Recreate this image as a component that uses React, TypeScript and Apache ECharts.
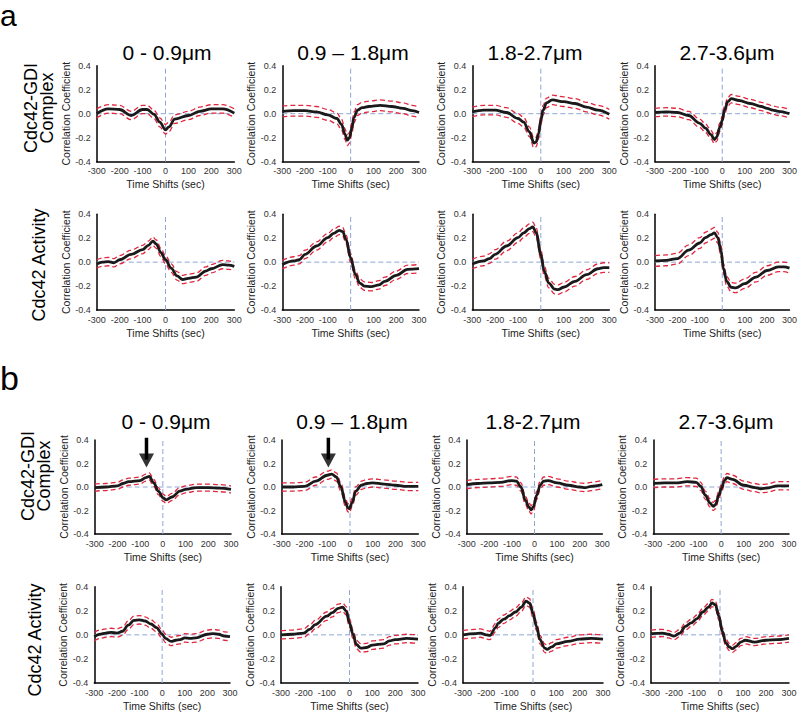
import React, { useEffect, useRef } from "react";
import * as echarts from "echarts";

type Row = [number, number, number, number]; // [time shift, lower, mean, upper]

const FONT = "Liberation Sans, Arial, sans-serif";

const panelTitles = ["0 - 0.9μm", "0.9 – 1.8μm", "1.8-2.7μm", "2.7-3.6μm"];
const rowLabels = ["Cdc42-GDI\nComplex", "Cdc42 Activity", "Cdc42-GDI\nComplex", "Cdc42 Activity"];
const xTickInterval = 100;
const yTickInterval = 0.2;

// ---- a: Cdc42-GDI complex ----
const aGdi1: Row[] = [
  [-300, -0.035, 0.0, 0.04], [-250, 0.005, 0.04, 0.075], [-200, 0.0, 0.035, 0.07],
  [-150, -0.05, -0.015, 0.02], [-100, 0.0, 0.035, 0.07], [-80, 0.0, 0.035, 0.07],
  [-50, -0.04, -0.005, 0.03], [-25, -0.11, -0.07, -0.035], [0, -0.17, -0.135, -0.09],
  [15, -0.15, -0.11, -0.07], [40, -0.08, -0.045, -0.01], [100, -0.05, -0.015, 0.02],
  [150, -0.015, 0.02, 0.055], [200, 0.005, 0.04, 0.075], [250, 0.005, 0.04, 0.075],
  [300, -0.03, 0.005, 0.04],
];
const aGdi2: Row[] = [
  [-300, -0.025, 0.02, 0.065], [-250, -0.02, 0.025, 0.07], [-200, -0.02, 0.025, 0.07],
  [-150, -0.03, 0.015, 0.06], [-100, -0.055, -0.01, 0.035], [-60, -0.085, -0.04, 0.005],
  [-40, -0.135, -0.09, -0.045], [-25, -0.215, -0.17, -0.125], [-15, -0.265, -0.22, -0.175],
  [-5, -0.245, -0.2, -0.155], [5, -0.165, -0.12, -0.075], [15, -0.075, -0.03, 0.015],
  [30, -0.015, 0.03, 0.075], [50, 0.005, 0.05, 0.095], [80, 0.015, 0.06, 0.105],
  [130, 0.025, 0.07, 0.115], [180, 0.015, 0.06, 0.105], [230, 0.0, 0.045, 0.09],
  [270, -0.02, 0.025, 0.07], [300, -0.035, 0.01, 0.055],
];
const aGdi3: Row[] = [
  [-300, -0.025, 0.015, 0.055], [-250, -0.01, 0.03, 0.07], [-200, -0.01, 0.03, 0.07],
  [-150, -0.03, 0.01, 0.05], [-100, -0.08, -0.04, 0.0], [-75, -0.11, -0.07, -0.03],
  [-50, -0.19, -0.15, -0.11], [-30, -0.285, -0.245, -0.205], [-20, -0.275, -0.235, -0.195],
  [-10, -0.21, -0.17, -0.13], [0, -0.095, -0.055, -0.015], [10, -0.01, 0.03, 0.07],
  [25, 0.05, 0.09, 0.13], [50, 0.075, 0.115, 0.155], [100, 0.06, 0.1, 0.14],
  [150, 0.045, 0.085, 0.125], [200, 0.015, 0.055, 0.095], [250, -0.01, 0.03, 0.07],
  [300, -0.045, -0.005, 0.035],
];
const aGdi4: Row[] = [
  [-300, -0.025, 0.01, 0.045], [-250, -0.02, 0.015, 0.05], [-200, -0.025, 0.01, 0.045],
  [-150, -0.05, -0.015, 0.02], [-100, -0.115, -0.08, -0.045], [-75, -0.155, -0.12, -0.085],
  [-50, -0.21, -0.175, -0.14], [-35, -0.25, -0.215, -0.18], [-25, -0.23, -0.195, -0.16],
  [-10, -0.145, -0.11, -0.075], [0, -0.09, -0.055, -0.02], [10, -0.005, 0.03, 0.065],
  [25, 0.065, 0.1, 0.135], [40, 0.09, 0.125, 0.16], [75, 0.075, 0.11, 0.145],
  [125, 0.05, 0.085, 0.12], [175, 0.025, 0.06, 0.095], [200, 0.01, 0.045, 0.08],
  [225, -0.005, 0.03, 0.065], [250, -0.015, 0.02, 0.055], [300, -0.035, 0.0, 0.035],
];

// ---- a: Cdc42 activity ----
const aAct1: Row[] = [
  [-300, -0.05, -0.015, 0.02], [-275, -0.035, 0.0, 0.035], [-250, -0.03, 0.005, 0.04],
  [-225, -0.04, -0.005, 0.03], [-200, -0.015, 0.02, 0.055], [-150, 0.03, 0.065, 0.1],
  [-100, 0.07, 0.105, 0.14], [-75, 0.105, 0.14, 0.175], [-55, 0.14, 0.175, 0.21],
  [-40, 0.115, 0.15, 0.185], [-20, 0.045, 0.08, 0.115], [0, -0.015, 0.02, 0.055],
  [25, -0.085, -0.05, -0.015], [50, -0.15, -0.115, -0.08], [75, -0.18, -0.145, -0.11],
  [100, -0.17, -0.135, -0.1], [135, -0.16, -0.125, -0.09], [175, -0.11, -0.075, -0.04],
  [200, -0.09, -0.055, -0.02], [250, -0.055, -0.02, 0.015], [275, -0.06, -0.025, 0.01],
  [300, -0.07, -0.035, 0.0],
];
const aAct2: Row[] = [
  [-300, -0.055, -0.02, 0.015], [-250, -0.025, 0.01, 0.045], [-225, -0.015, 0.02, 0.055],
  [-200, 0.03, 0.065, 0.1], [-150, 0.1, 0.135, 0.17], [-100, 0.17, 0.205, 0.24],
  [-75, 0.205, 0.24, 0.275], [-50, 0.23, 0.265, 0.3], [-35, 0.22, 0.255, 0.29],
  [-20, 0.155, 0.19, 0.225], [0, 0.0, 0.035, 0.07], [20, -0.135, -0.1, -0.065],
  [40, -0.21, -0.175, -0.14], [60, -0.235, -0.2, -0.165], [90, -0.24, -0.205, -0.17],
  [125, -0.225, -0.19, -0.155], [150, -0.195, -0.16, -0.125], [200, -0.145, -0.11, -0.075],
  [250, -0.095, -0.06, -0.025], [300, -0.09, -0.055, -0.02],
];
const aAct3: Row[] = [
  [-300, -0.055, -0.015, 0.025], [-250, -0.03, 0.01, 0.05], [-225, -0.01, 0.03, 0.07],
  [-200, 0.025, 0.065, 0.105], [-150, 0.095, 0.135, 0.175], [-100, 0.165, 0.205, 0.245],
  [-75, 0.205, 0.245, 0.285], [-50, 0.24, 0.28, 0.32], [-35, 0.255, 0.295, 0.335],
  [-20, 0.205, 0.245, 0.285], [0, 0.025, 0.065, 0.105], [15, -0.115, -0.075, -0.035],
  [35, -0.215, -0.175, -0.135], [60, -0.265, -0.225, -0.185], [75, -0.27, -0.23, -0.19],
  [100, -0.25, -0.21, -0.17], [150, -0.2, -0.16, -0.12], [200, -0.145, -0.105, -0.065],
  [250, -0.095, -0.055, -0.015], [275, -0.085, -0.045, -0.005], [300, -0.085, -0.045, -0.005],
];
const aAct4: Row[] = [
  [-300, -0.035, 0.01, 0.055], [-250, -0.03, 0.015, 0.06], [-200, -0.015, 0.03, 0.075],
  [-150, 0.055, 0.1, 0.145], [-100, 0.115, 0.16, 0.205], [-75, 0.16, 0.205, 0.25],
  [-50, 0.185, 0.23, 0.275], [-35, 0.2, 0.245, 0.29], [-20, 0.16, 0.205, 0.25],
  [-5, 0.045, 0.09, 0.135], [5, -0.09, -0.05, -0.01], [20, -0.2, -0.16, -0.12],
  [40, -0.25, -0.21, -0.17], [60, -0.255, -0.215, -0.175], [100, -0.22, -0.18, -0.14],
  [150, -0.165, -0.125, -0.085], [200, -0.11, -0.07, -0.03], [250, -0.08, -0.04, 0.0],
  [275, -0.08, -0.04, 0.0], [300, -0.09, -0.05, -0.01],
];

// ---- b: Cdc42-GDI complex ----
const bGdi1: Row[] = [
  [-300, -0.035, -0.005, 0.025], [-250, -0.03, 0.0, 0.03], [-200, -0.02, 0.01, 0.04],
  [-175, 0.0, 0.03, 0.06], [-150, 0.015, 0.045, 0.075], [-100, 0.025, 0.055, 0.085],
  [-75, 0.05, 0.08, 0.11], [-60, 0.06, 0.09, 0.12], [-40, 0.005, 0.035, 0.065],
  [-20, -0.065, -0.035, -0.005], [0, -0.12, -0.09, -0.06], [15, -0.14, -0.11, -0.08],
  [40, -0.115, -0.085, -0.055], [75, -0.065, -0.035, -0.005], [100, -0.05, -0.02, 0.01],
  [150, -0.035, -0.005, 0.025], [200, -0.035, -0.005, 0.025], [250, -0.04, -0.01, 0.02],
  [300, -0.05, -0.02, 0.01],
];
const bGdi2: Row[] = [
  [-300, -0.035, 0.0, 0.035], [-250, -0.035, 0.0, 0.035], [-200, -0.03, 0.005, 0.04],
  [-150, 0.015, 0.05, 0.085], [-100, 0.065, 0.1, 0.135], [-80, 0.075, 0.11, 0.145],
  [-60, 0.05, 0.085, 0.12], [-40, -0.035, 0.0, 0.035], [-20, -0.165, -0.13, -0.095],
  [-10, -0.21, -0.175, -0.14], [-3, -0.22, -0.185, -0.15], [10, -0.165, -0.13, -0.095],
  [25, -0.07, -0.035, 0.0], [50, -0.02, 0.015, 0.05], [75, -0.005, 0.03, 0.065],
  [100, 0.0, 0.035, 0.07], [150, -0.01, 0.025, 0.06], [200, -0.02, 0.015, 0.05],
  [250, -0.03, 0.005, 0.04], [300, -0.03, 0.005, 0.04],
];
const bGdi3: Row[] = [
  [-300, -0.015, 0.02, 0.055], [-250, -0.005, 0.03, 0.065], [-200, 0.0, 0.035, 0.07],
  [-150, 0.005, 0.04, 0.075], [-100, 0.02, 0.055, 0.09], [-80, 0.015, 0.05, 0.085],
  [-60, -0.035, 0.0, 0.035], [-40, -0.15, -0.115, -0.08], [-25, -0.205, -0.17, -0.135],
  [-15, -0.23, -0.195, -0.16], [-5, -0.205, -0.17, -0.135], [10, -0.105, -0.07, -0.035],
  [25, -0.02, 0.015, 0.05], [40, 0.015, 0.05, 0.085], [60, 0.02, 0.055, 0.09],
  [100, 0.0, 0.035, 0.07], [150, -0.02, 0.015, 0.05], [200, -0.035, 0.0, 0.035],
  [225, -0.04, -0.005, 0.03], [250, -0.03, 0.005, 0.04], [300, -0.015, 0.02, 0.055],
];
const bGdi4: Row[] = [
  [-300, -0.005, 0.03, 0.065], [-250, 0.0, 0.035, 0.07], [-200, 0.0, 0.035, 0.07],
  [-150, 0.01, 0.045, 0.08], [-110, 0.005, 0.04, 0.075], [-90, -0.03, 0.005, 0.04],
  [-70, -0.105, -0.07, -0.035], [-50, -0.17, -0.135, -0.1], [-35, -0.2, -0.165, -0.13],
  [-25, -0.185, -0.15, -0.115], [-10, -0.105, -0.07, -0.035], [0, -0.05, -0.015, 0.02],
  [15, 0.02, 0.055, 0.09], [25, 0.045, 0.08, 0.115], [50, 0.03, 0.065, 0.1],
  [100, -0.02, 0.015, 0.05], [150, -0.04, -0.005, 0.03], [175, -0.05, -0.015, 0.02],
  [200, -0.045, -0.01, 0.025], [250, -0.025, 0.01, 0.045], [300, -0.025, 0.01, 0.045],
];

// ---- b: Cdc42 activity ----
const bAct1: Row[] = [
  [-300, -0.05, -0.015, 0.02], [-275, -0.03, 0.005, 0.04], [-250, -0.02, 0.015, 0.05],
  [-225, -0.015, 0.02, 0.055], [-200, -0.02, 0.015, 0.05], [-175, -0.005, 0.03, 0.065],
  [-150, 0.045, 0.08, 0.115], [-125, 0.085, 0.12, 0.155], [-100, 0.09, 0.125, 0.16],
  [-75, 0.08, 0.115, 0.15], [-50, 0.055, 0.09, 0.125], [-25, 0.025, 0.06, 0.095],
  [0, -0.03, 0.005, 0.04], [15, -0.065, -0.03, 0.005], [40, -0.09, -0.055, -0.02],
  [60, -0.08, -0.045, -0.01], [80, -0.075, -0.04, -0.005], [100, -0.06, -0.025, 0.01],
  [125, -0.065, -0.03, 0.005], [150, -0.06, -0.025, 0.01], [200, -0.03, 0.005, 0.04],
  [225, -0.025, 0.01, 0.045], [250, -0.03, 0.005, 0.04], [275, -0.045, -0.01, 0.025],
  [300, -0.05, -0.015, 0.02],
];
const bAct2: Row[] = [
  [-300, -0.035, 0.0, 0.035], [-250, -0.03, 0.005, 0.04], [-200, -0.02, 0.015, 0.05],
  [-175, 0.01, 0.045, 0.08], [-150, 0.05, 0.085, 0.12], [-100, 0.12, 0.155, 0.19],
  [-75, 0.15, 0.185, 0.22], [-50, 0.185, 0.22, 0.255], [-30, 0.195, 0.23, 0.265],
  [-15, 0.165, 0.2, 0.235], [0, 0.065, 0.1, 0.135], [15, -0.03, 0.005, 0.04],
  [30, -0.115, -0.08, -0.045], [50, -0.145, -0.11, -0.075], [75, -0.14, -0.105, -0.07],
  [100, -0.12, -0.085, -0.05], [150, -0.11, -0.075, -0.04], [175, -0.085, -0.05, -0.015],
  [200, -0.075, -0.04, -0.005], [250, -0.065, -0.03, 0.005], [300, -0.07, -0.035, 0.0],
];
const bAct3: Row[] = [
  [-300, -0.035, 0.0, 0.035], [-250, -0.025, 0.01, 0.045], [-225, -0.02, 0.015, 0.05],
  [-200, -0.035, 0.0, 0.035], [-185, -0.04, -0.005, 0.03], [-160, 0.025, 0.06, 0.095],
  [-150, 0.06, 0.095, 0.13], [-125, 0.095, 0.13, 0.165], [-100, 0.125, 0.16, 0.195],
  [-75, 0.155, 0.19, 0.225], [-50, 0.195, 0.23, 0.265], [-30, 0.245, 0.28, 0.315],
  [-15, 0.23, 0.265, 0.3], [0, 0.145, 0.18, 0.215], [15, 0.035, 0.07, 0.105],
  [30, -0.075, -0.04, -0.005], [50, -0.145, -0.11, -0.075], [60, -0.155, -0.12, -0.085],
  [80, -0.135, -0.1, -0.065], [100, -0.11, -0.075, -0.04], [150, -0.09, -0.055, -0.02],
  [200, -0.07, -0.035, 0.0], [250, -0.065, -0.03, 0.005], [300, -0.07, -0.035, 0.0],
];
const bAct4: Row[] = [
  [-300, -0.02, 0.01, 0.04], [-250, -0.015, 0.015, 0.045], [-225, -0.025, 0.005, 0.035],
  [-200, -0.04, -0.01, 0.02], [-175, -0.015, 0.015, 0.045], [-150, 0.04, 0.07, 0.1],
  [-125, 0.07, 0.1, 0.13], [-100, 0.105, 0.135, 0.165], [-75, 0.16, 0.19, 0.22],
  [-50, 0.2, 0.23, 0.26], [-35, 0.235, 0.265, 0.295], [-20, 0.22, 0.25, 0.28],
  [-5, 0.125, 0.155, 0.185], [10, 0.0, 0.03, 0.06], [25, -0.095, -0.065, -0.035],
  [40, -0.13, -0.1, -0.07], [55, -0.145, -0.115, -0.085], [70, -0.125, -0.095, -0.065],
  [90, -0.09, -0.06, -0.03], [110, -0.075, -0.045, -0.015], [150, -0.09, -0.06, -0.03],
  [200, -0.075, -0.045, -0.015], [250, -0.07, -0.04, -0.01], [300, -0.06, -0.03, 0.0],
];

const panelRows: Row[][][] = [
  [aGdi1, aGdi2, aGdi3, aGdi4],
  [aAct1, aAct2, aAct3, aAct4],
  [bGdi1, bGdi2, bGdi3, bGdi4],
  [bAct1, bAct2, bAct3, bAct4],
];

// arrows in panel b (row 2): [column, time shift of arrow, top value, tip value]
const arrowMarks: [number, number, number, number][] = [
  [0, -72, 0.42, 0.165],
  [1, -95, 0.42, 0.165],
];

// ---- layout (pixels) ----
const rowTop = [65.7, 214.3, 440, 586.7];
const rowHeight = [96, 95.7, 94, 96.3];
const colLeft = [
  [96.7, 282.3, 472.3, 655],
  [96.7, 282.3, 472.3, 655],
  [94.7, 281.7, 466.7, 653.3],
  [94.3, 281, 463, 651],
];
const colWidth = [
  [137.6, 136.7, 137, 136.7],
  [137.6, 136.7, 137, 136.7],
  [136.3, 136.6, 135.6, 135.7],
  [135.7, 137, 140, 138],
];
const titleX = [
  [167, 353, 535, 727],
  [166, 352, 533, 726],
];
const titleY = [52, 421];
const rowLabelPos = [
  [39, 108],
  [39, 265],
  [36, 476],
  [35, 640],
];

const BLACK = "#1a1a1a";
const RED = "#e1263e";
const BLUE = "#8ea5d6";

export default function App() {
  const ref = useRef<HTMLDivElement>(null);

  useEffect(() => {
    if (!ref.current) return;
    const chart = echarts.init(ref.current, undefined, { renderer: "svg" });

    const grids: any[] = [];
    const xAxes: any[] = [];
    const yAxes: any[] = [];
    const series: any[] = [];

    panelRows.forEach((row, r) => {
      row.forEach((rows, c) => {
        const idx = grids.length;
        grids.push({
          left: colLeft[r][c],
          top: rowTop[r],
          width: colWidth[r][c],
          height: rowHeight[r],
          containLabel: false,
        });
        xAxes.push({
          type: "value",
          gridIndex: idx,
          min: -300,
          max: 300,
          interval: xTickInterval,
          axisLine: { show: true, onZero: false, lineStyle: { color: "#000", width: 1.5 } },
          axisTick: { show: false },
          splitLine: { show: false },
          axisLabel: { fontSize: 9, color: "#333", margin: 5, fontFamily: FONT },
          name: "Time Shifts (sec)",
          nameLocation: "middle",
          nameGap: 17,
          nameTextStyle: { fontSize: 10.5, color: "#222", fontFamily: FONT },
        });
        yAxes.push({
          type: "value",
          gridIndex: idx,
          min: -0.4,
          max: 0.4,
          interval: yTickInterval,
          axisLine: { show: true, onZero: false, lineStyle: { color: "#000", width: 1.5 } },
          axisTick: { show: false },
          splitLine: { show: false },
          axisLabel: {
            fontSize: 9,
            color: "#333",
            margin: 6,
            fontFamily: FONT,
            formatter: (v: number) => (Math.abs(v) < 1e-9 ? 0 : v).toFixed(1),
          },
          name: "Correlation Coefficient",
          nameLocation: "middle",
          nameGap: 24,
          nameTextStyle: { fontSize: 10.5, color: "#222", fontFamily: FONT },
        });

        const common = {
          type: "line",
          xAxisIndex: idx,
          yAxisIndex: idx,
          symbol: "none",
          silent: true,
          animation: false,
        };
        // reference lines at t = 0 and r = 0
        series.push({
          ...common,
          z: 1,
          data: [[0, -0.4], [0, 0.4]],
          lineStyle: { color: BLUE, width: 1, type: [5, 3] },
        });
        series.push({
          ...common,
          z: 1,
          data: [[-300, 0], [300, 0]],
          lineStyle: { color: BLUE, width: 1, type: [5, 3] },
        });
        // confidence bounds
        series.push({
          ...common,
          z: 2,
          smooth: 0.35,
          smoothMonotone: "x",
          data: rows.map((d) => [d[0], d[1]]),
          lineStyle: { color: RED, width: 1.3, type: [5, 3] },
        });
        series.push({
          ...common,
          z: 2,
          smooth: 0.35,
          smoothMonotone: "x",
          data: rows.map((d) => [d[0], d[3]]),
          lineStyle: { color: RED, width: 1.3, type: [5, 3] },
        });
        // mean
        series.push({
          ...common,
          z: 3,
          smooth: 0.35,
          smoothMonotone: "x",
          data: rows.map((d) => [d[0], d[2]]),
          lineStyle: { color: BLACK, width: 2.8 },
        });
      });
    });

    // arrows in b, Cdc42-GDI complex row
    arrowMarks.forEach(([c, t, top, tip]) => {
      const idx = 2 * 4 + c;
      series.push({
        type: "line",
        xAxisIndex: idx,
        yAxisIndex: idx,
        symbol: "none",
        silent: true,
        clip: false,
        z: 5,
        data: [[t, top], [t, tip + 0.07]],
        lineStyle: { color: "#000", width: 3.5 },
      });
      series.push({
        type: "scatter",
        xAxisIndex: idx,
        yAxisIndex: idx,
        silent: true,
        clip: false,
        z: 5,
        symbol: "triangle",
        symbolRotate: 180,
        symbolSize: [15, 14],
        itemStyle: { color: "#000" },
        data: [[t, tip + 0.06]],
      });
    });

    const graphics: any[] = [];
    [0, 1].forEach((g) => {
      panelTitles.forEach((title, c) => {
        graphics.push({
          type: "text",
          x: titleX[g][c],
          y: titleY[g],
          style: {
            text: title,
            font: `21px ${FONT}`,
            fill: "#000",
            align: "center",
            verticalAlign: "middle",
          },
        });
      });
    });
    rowLabels.forEach((label, r) => {
      graphics.push({
        type: "text",
        x: rowLabelPos[r][0],
        y: rowLabelPos[r][1],
        rotation: Math.PI / 2,
        style: {
          text: label,
          font: `18px ${FONT}`,
          lineHeight: 16,
          fill: "#000",
          align: "center",
          verticalAlign: "middle",
        },
      });
    });
    graphics.push({
      type: "text",
      x: 0,
      y: 15,
      style: {
        text: "a",
        font: `30px ${FONT}`,
        fill: "#000",
        align: "left",
        verticalAlign: "middle",
      },
    });
    graphics.push({
      type: "text",
      x: 0,
      y: 378,
      style: { text: "b", font: `34px ${FONT}`, fill: "#000", align: "left", verticalAlign: "middle" },
    });

    chart.setOption({
      animation: false,
      backgroundColor: "#fff",
      textStyle: { fontFamily: FONT },
      grid: grids,
      xAxis: xAxes,
      yAxis: yAxes,
      series,
      graphic: graphics,
    });

    return () => chart.dispose();
  }, []);

  return (
    <div
      ref={ref}
      style={{ position: "absolute", left: 0, top: 0, width: 800, height: 714 }}
    />
  );
}
